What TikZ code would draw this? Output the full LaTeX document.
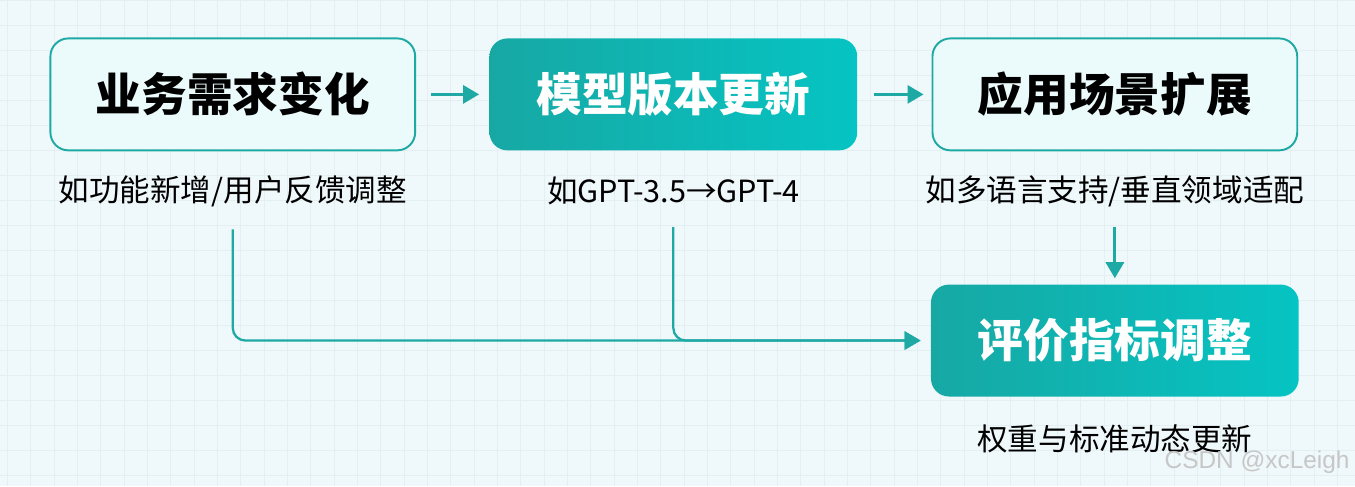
\documentclass[tikz,border=0pt]{standalone}
\usepackage{fontspec}
\setmainfont{Noto Sans CJK SC}
\newfontfamily\markfont{Liberation Sans}
\usetikzlibrary{positioning,arrows.meta}

\definecolor{tealdark}{HTML}{17A8A4}
\definecolor{teallight}{HTML}{05C4C3}
\definecolor{tealline}{HTML}{1EA9A5}
\definecolor{boxpale}{HTML}{EBFAFA}
\definecolor{paper}{HTML}{EFF8FA}
\definecolor{gridline}{HTML}{E4EFF2}

\tikzstyle{lightbox} = [rectangle, rounded corners=0.36cm, minimum width=7.3cm, minimum height=2.24cm, text centered, draw=tealline, line width=1.1pt, fill=boxpale, font=\fontsize{26}{30}\selectfont\bfseries]
\tikzstyle{tealbox} = [rectangle, rounded corners=0.36cm, minimum width=7.36cm, minimum height=2.24cm, text centered, left color=tealdark, right color=teallight, text=white, font=\fontsize{26}{30}\selectfont\bfseries]
\tikzstyle{desc} = [inner sep=0pt, font=\fontsize{17.4}{20}\selectfont]
\tikzstyle{flow} = [draw=tealline, line width=1.7pt, -{Triangle[length=0.32cm,width=0.36cm]}]
\tikzstyle{feed} = [draw=tealline, line width=1.3pt, rounded corners=0.25cm, -{Triangle[length=0.32cm,width=0.36cm]}]

\begin{document}
\begin{tikzpicture}

% paper and grid
\fill [paper] (0,0) rectangle (27.1,-9.72);
\draw [gridline, line width=0.5pt, xshift=0.14cm, xstep=0.467cm, ystep=0.5cm] (-0.14,-9.72) grid (26.96,0);
\useasboundingbox (0,0) rectangle (27.1,-9.72);

\node (block1) [lightbox] at (4.65,-1.88) {业务需求变化};

\node (block2) [tealbox, right=1.46cm of block1] {模型版本更新};

\node (block3) [lightbox, right=1.48cm of block2] {应用场景扩展};

\node (block4) [tealbox, below=2.66cm of block3] {评价指标调整};

\node (desc1) [desc, below=0.8cm of block1.south, anchor=center] {如功能新增/用户反馈调整};
\node (desc2) [desc, below=0.8cm of block2.south, anchor=center] {如GPT-3.5→GPT-4};
\node (desc3) [desc, below=0.8cm of block3.south, anchor=center] {如多语言支持/垂直领域适配};
\node (desc4) [desc, below=0.84cm of block4.south, anchor=center] {权重与标准动态更新};

\node (mark) [font=\markfont\fontsize{13.9}{16}\selectfont, text=black!22] at (25.15,-9.24) {CSDN @xcLeigh};

\draw [flow, shorten <=0.3cm, shorten >=0.2cm] (block1) -- (block2);
\draw [flow, shorten <=0.32cm, shorten >=0.16cm] (block2) -- (block3);
\draw [flow, shorten <=0.4cm, shorten >=0.12cm] (block4.north |- desc3.south) -- (block4.north);
\draw [feed, shorten <=0.44cm, shorten >=0.2cm] (desc1.south) |- (block4.west);
\draw [feed, shorten <=0.44cm, shorten >=0.2cm] (block2.south |- desc2.south) |- (block4.west);
\end{tikzpicture}
\end{document}
